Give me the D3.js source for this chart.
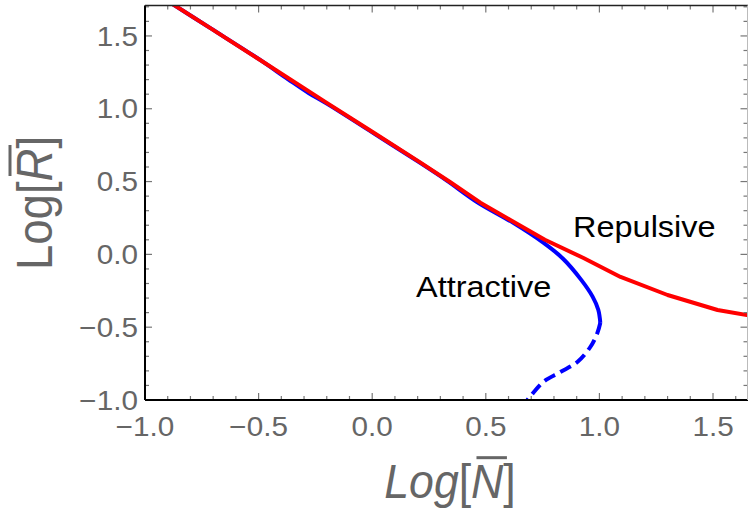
<!DOCTYPE html>
<html><head><meta charset="utf-8">
<script src="https://cdn.jsdelivr.net/npm/d3@7"></script>
<style>html,body{margin:0;padding:0;background:#fff;} svg{display:block;}</style>
</head><body>
<svg id="chart" width="748" height="509"></svg>
<script>
// ---- data ----
const repulsiveX = [-0.9, -0.714, -0.5, -0.2, 0.0, 0.211, 0.344, 0.476, 0.608, 0.76, 0.93, 1.093, 1.30, 1.52, 1.66];
const repulsiveY = [1.74, 1.555, 1.342, 1.04, 0.842, 0.632, 0.495, 0.355, 0.236, 0.10, -0.025, -0.155, -0.279, -0.382, -0.42];

const attractiveX = [-0.9, -0.714, -0.5, -0.37, -0.28, -0.2, 0.0, 0.211, 0.33, 0.463, 0.621, 0.753, 0.84, 0.92, 0.97, 0.995, 1.004];
const attractiveY = [1.74, 1.555, 1.342, 1.202, 1.108, 1.035, 0.838, 0.628, 0.505, 0.358, 0.216, 0.08, -0.03, -0.175, -0.29, -0.38, -0.47];

const unstableX = [1.004, 0.991, 0.96, 0.903, 0.828, 0.753, 0.683, 0.665];
const unstableY = [-0.47, -0.54, -0.636, -0.739, -0.808, -0.876, -1.0, -1.03];

const xTickLabels = [-1.0, -0.5, 0.0, 0.5, 1.0, 1.5];
const yTickLabels = [-1.0, -0.5, 0.0, 0.5, 1.0, 1.5];
const xMinorTicks = d3.range(-10, 17).map(i => i / 10);
const yMinorTicks = d3.range(-10, 18).map(i => i / 10);

const annotationText = ["Attractive", "Repulsive"];
const annotationX = [0.193, 0.884];
const annotationY = [-0.293, 0.12];

// ---- layout ----
const L = 145, R = 747.5, T = 5.5, B = 400;
const x = d3.scaleLinear().domain([-1, 1.654]).range([L, 748]);
const y = d3.scaleLinear().domain([-1, 1.709]).range([B, T]);

const svg = d3.select("#chart");
const FONT = "'Liberation Sans', Arial, Helvetica, sans-serif";

svg.append("defs").append("clipPath").attr("id", "clip")
  .append("rect").attr("x", L).attr("y", T).attr("width", 748 - L).attr("height", B - T);

const zip = (xs, ys) => xs.map((v, i) => [v, ys[i]]);
const lineLin = d3.line().x(d => x(d[0])).y(d => y(d[1]));
const lineSmooth = d3.line().x(d => x(d[0])).y(d => y(d[1])).curve(d3.curveCatmullRom.alpha(0.5));

const plot = svg.append("g").attr("clip-path", "url(#clip)");
plot.append("path").datum(zip(attractiveX, attractiveY))
  .attr("d", lineSmooth).attr("fill", "none").attr("stroke", "#0000ff")
  .attr("stroke-width", 4).attr("stroke-linejoin", "round");
plot.append("path").datum(zip(unstableX, unstableY))
  .attr("d", lineSmooth).attr("fill", "none").attr("stroke", "#0000ff")
  .attr("stroke-width", 4).attr("stroke-dasharray", "12,6");
plot.append("path").datum(zip(repulsiveX, repulsiveY))
  .attr("d", lineLin).attr("fill", "none").attr("stroke", "#ff0000")
  .attr("stroke-width", 4).attr("stroke-linejoin", "round");

// ---- frame ----
const frame = svg.append("g");
const tickCol = "#777";
const isMajor = (list, d) => list.some(v => Math.abs(v - d) < 1e-9);
frame.selectAll(".xb").data(xMinorTicks).join("line")
  .attr("x1", d => x(d)).attr("x2", d => x(d))
  .attr("y1", B).attr("y2", d => B - (isMajor(xTickLabels, d) ? 7 : 4))
  .attr("stroke", tickCol).attr("stroke-width", 1.2);
frame.selectAll(".xt").data(xMinorTicks).join("line")
  .attr("x1", d => x(d)).attr("x2", d => x(d))
  .attr("y1", T).attr("y2", d => T + (isMajor(xTickLabels, d) ? 7 : 4))
  .attr("stroke", tickCol).attr("stroke-width", 1.2);
frame.selectAll(".yl").data(yMinorTicks).join("line")
  .attr("y1", d => y(d)).attr("y2", d => y(d))
  .attr("x1", L).attr("x2", d => L + (isMajor(yTickLabels, d) ? 7 : 4))
  .attr("stroke", tickCol).attr("stroke-width", 1.2);
frame.selectAll(".yr").data(yMinorTicks).join("line")
  .attr("y1", d => y(d)).attr("y2", d => y(d))
  .attr("x1", R).attr("x2", d => R - (isMajor(yTickLabels, d) ? 7 : 4))
  .attr("stroke", tickCol).attr("stroke-width", 1.2);

frame.append("line").attr("x1", L).attr("x2", 748).attr("y1", B).attr("y2", B).attr("stroke", "#000").attr("stroke-width", 2);
frame.append("line").attr("x1", L).attr("x2", L).attr("y1", T).attr("y2", B).attr("stroke", "#000").attr("stroke-width", 2);
frame.append("line").attr("x1", L).attr("x2", 748).attr("y1", T).attr("y2", T).attr("stroke", "#222").attr("stroke-width", 1.5);
frame.append("line").attr("x1", R).attr("x2", R).attr("y1", T).attr("y2", B).attr("stroke", "#bbb").attr("stroke-width", 1);

// ---- tick labels ----
const fmt = d3.format(".1f");
const TS = 27, SX = 1.1;
svg.selectAll(".xlab").data(xTickLabels).join("g")
  .attr("transform", d => `translate(${x(d)},436) scale(${SX},1)`)
  .append("text").attr("text-anchor", "middle")
  .attr("font-family", FONT).attr("font-size", TS).attr("fill", "#666")
  .text(d => fmt(d));
svg.selectAll(".ylab").data(yTickLabels).join("g")
  .attr("transform", d => `translate(138,${y(d) + 0.36 * TS}) scale(${SX},1)`)
  .append("text").attr("text-anchor", "end")
  .attr("font-family", FONT).attr("font-size", TS).attr("fill", "#666")
  .text(d => fmt(d));

// ---- annotations ----
svg.selectAll(".ann").data(annotationText).join("g")
  .attr("transform", (d, i) => `translate(${x(annotationX[i])},${y(annotationY[i])}) scale(1.12,1)`)
  .append("text").attr("font-family", FONT).attr("font-size", 29).attr("fill", "#000")
  .text(d => d);

// ---- axis labels ----
function axisLabel(tr, italicLog, letter, FS) {
  const g = svg.append("g").attr("transform", tr);
  const t = g.append("text").attr("text-anchor", "middle")
    .attr("font-family", FONT).attr("font-size", FS).attr("fill", "#666");
  t.append("tspan").attr("font-style", italicLog ? "italic" : "normal").text("Log");
  t.append("tspan").text("[");
  t.append("tspan").attr("font-style", "italic").text(letter);
  t.append("tspan").text("]");
  const ext = t.node().getExtentOfChar(4);
  g.append("line")
    .attr("x1", ext.x + 0.12 * FS).attr("x2", ext.x + ext.width + 0.08 * FS)
    .attr("y1", -0.84 * FS).attr("y2", -0.84 * FS)
    .attr("stroke", "#666").attr("stroke-width", 3);
}
axisLabel("translate(450,498) scale(0.93,1)", true, "N", 48);
axisLabel("translate(52,203) rotate(-90) scale(0.91,1)", false, "R", 50);
</script>
</body></html>
